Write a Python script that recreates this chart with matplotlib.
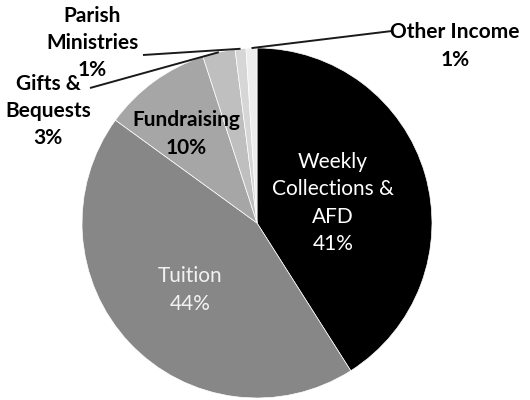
import numpy as np
import matplotlib
matplotlib.use("Agg")
import matplotlib.pyplot as plt

# ---- data (clockwise from 12 o'clock) ----
labels = ["Weekly\nCollections &\nAFD", "Tuition", "Fundraising",
          "Gifts &\nBequests", "Parish\nMinistries", "Other Income"]
shares = [41, 44, 10, 3, 1, 1]
colors = ["#000000", "#878787", "#a6a6a6", "#bfbfbf", "#d6d6d6", "#ededed"]

W, H = 530, 400
CX, CY, R = 257, 223, 175          # pie centre / radius in image pixels

plt.rcParams["font.family"] = ["Lato", "DejaVu Sans"]

fig = plt.figure(figsize=(W / 100, H / 100), dpi=100)
ax = fig.add_axes([0, 0, 1, 1])
ax.set_xlim(0, W)
ax.set_ylim(0, H)
ax.set_aspect("equal")
ax.axis("off")

def Y(y):            # image row -> data y
    return H - y

wedges, _ = ax.pie(shares, colors=colors, startangle=90, counterclock=False,
                   center=(CX, Y(CY)), radius=R,
                   wedgeprops=dict(edgecolor="white", linewidth=0.5))
ax.set_xlim(0, W)
ax.set_ylim(0, H)

# label placement (image pixels) : x, y, colour, weight
place = {
    0: (333, 203, "white", "normal"),
    1: (190, 290, "#f2f2f2", "normal"),
    2: (186, 134, "black", "bold"),
    3: (48, 111, "black", "bold"),
    4: (92, 43, "black", "bold"),
    5: (455, 46, "black", "bold"),
}
# outside labels: end of leader line near the text
leader_end = {3: (90, 88), 4: (143, 55), 5: (392, 31)}

for i, w in enumerate(wedges):
    x, y, col, wt = place[i]
    txt = f"{labels[i]}\n{shares[i]}%"
    ax.text(x, Y(y), txt, ha="center", va="center", color=col,
            fontsize=15, fontweight=wt, linespacing=1.45)
    if i in leader_end:
        mid = np.deg2rad((w.theta1 + w.theta2) / 2)
        px, py = CX + R * np.cos(mid), Y(CY) + R * np.sin(mid)
        ex, ey = leader_end[i]
        ax.plot([ex, px], [Y(ey), py], color="#1a1a1a", lw=1.4,
                solid_capstyle="butt")

fig.savefig("out.png", dpi=100, facecolor="white")
